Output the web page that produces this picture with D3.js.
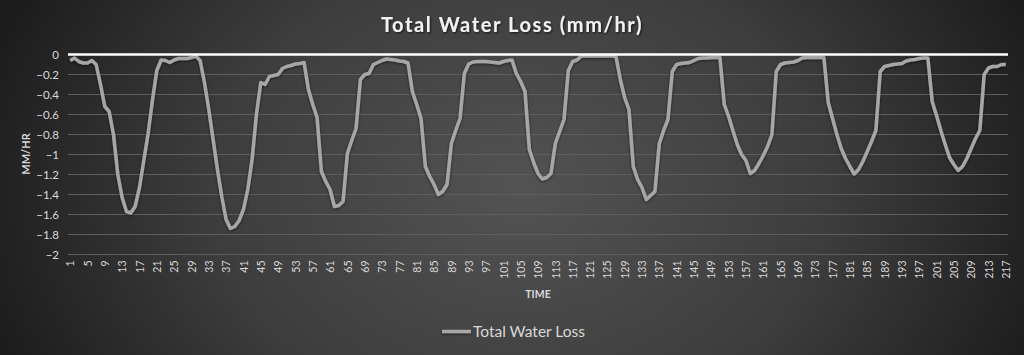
<!DOCTYPE html>
<html>
<head>
<meta charset="utf-8">
<script src="https://cdn.jsdelivr.net/npm/d3@7"></script>
<style>
  html, body { margin: 0; padding: 0; background: #2b2b2b; }
  svg { display: block; }
</style>
</head>
<body>
<svg id="chart" width="1024" height="355"></svg>
<script>
// ---- data ----
const chartTitle = "Total Water Loss (mm/hr)";
const seriesName = "Total Water Loss";
const yAxisTitle = "MM/HR";
const xAxisTitle = "TIME";
const timeSteps = d3.range(1, 218);
const waterLoss = [
  -0.06,-0.035,-0.07,-0.085,-0.085,-0.06,-0.10,-0.30,-0.52,-0.57,-0.80,-1.20,-1.43,-1.57,-1.585,-1.52,-1.33,-1.06,-0.79,-0.455,-0.16,-0.055,-0.06,-0.08,
  -0.055,-0.04,-0.04,-0.04,-0.03,-0.015,-0.06,-0.28,-0.55,-0.85,-1.15,-1.42,-1.65,-1.74,-1.72,-1.66,-1.55,-1.35,-1.05,-0.60,-0.28,-0.30,-0.22,-0.21,
  -0.20,-0.14,-0.12,-0.11,-0.095,-0.09,-0.08,-0.35,-0.50,-0.63,-1.17,-1.27,-1.35,-1.52,-1.51,-1.47,-0.99,-0.86,-0.74,-0.25,-0.20,-0.19,-0.10,-0.08,
  -0.06,-0.045,-0.05,-0.055,-0.065,-0.07,-0.085,-0.37,-0.50,-0.64,-1.12,-1.22,-1.30,-1.40,-1.37,-1.30,-0.89,-0.76,-0.64,-0.19,-0.095,-0.075,-0.07,-0.07,
  -0.07,-0.075,-0.08,-0.085,-0.07,-0.06,-0.055,-0.19,-0.27,-0.37,-0.95,-1.08,-1.19,-1.245,-1.23,-1.19,-0.89,-0.77,-0.65,-0.16,-0.07,-0.055,-0.015,-0.015,
  -0.015,-0.015,-0.015,-0.015,-0.015,-0.015,-0.02,-0.25,-0.43,-0.55,-1.12,-1.25,-1.33,-1.45,-1.41,-1.37,-0.89,-0.76,-0.65,-0.17,-0.10,-0.09,-0.085,-0.08,
  -0.06,-0.04,-0.035,-0.035,-0.03,-0.03,-0.03,-0.50,-0.62,-0.76,-0.90,-1.00,-1.06,-1.19,-1.16,-1.09,-1.01,-0.92,-0.80,-0.17,-0.10,-0.085,-0.08,-0.075,
  -0.06,-0.035,-0.03,-0.03,-0.03,-0.03,-0.03,-0.48,-0.64,-0.80,-0.94,-1.04,-1.12,-1.195,-1.15,-1.07,-0.97,-0.87,-0.76,-0.17,-0.12,-0.11,-0.10,-0.095,
  -0.09,-0.065,-0.055,-0.05,-0.04,-0.035,-0.035,-0.47,-0.61,-0.76,-0.90,-1.03,-1.10,-1.16,-1.12,-1.04,-0.94,-0.84,-0.76,-0.20,-0.135,-0.12,-0.12,-0.10,
  -0.10
];
const yTicks = [0, -0.2, -0.4, -0.6, -0.8, -1, -1.2, -1.4, -1.6, -1.8, -2];
const xTickLabels = [1,5,9,13,17,21,25,29,33,37,41,45,49,53,57,61,65,69,73,77,81,85,89,93,97,101,105,109,113,117,121,125,129,133,137,141,145,149,153,157,161,165,169,173,177,181,185,189,193,197,201,205,209,213,217];

// ---- layout ----
const W = 1024, H = 355;
const plot = { left: 68, right: 1008, top: 54.5, bottom: 254.5 };
const font = "Lato, 'Open Sans', 'Liberation Sans', sans-serif";
const textCol = "#d9d9d9";

const svg = d3.select("#chart");
const defs = svg.append("defs");
const bg = defs.append("radialGradient").attr("id", "bg")
  .attr("gradientUnits", "userSpaceOnUse")
  .attr("cx", 520).attr("cy", 190).attr("r", 560)
  .attr("gradientTransform", "translate(520,190) scale(1,0.75) translate(-520,-190)");
bg.append("stop").attr("offset", "0%").attr("stop-color", "#535353");
bg.append("stop").attr("offset", "55%").attr("stop-color", "#3d3d3d");
bg.append("stop").attr("offset", "100%").attr("stop-color", "#1c1c1c");

const sh = defs.append("filter").attr("id", "shadow")
  .attr("filterUnits", "userSpaceOnUse").attr("x", 0).attr("y", 0).attr("width", W).attr("height", H);
sh.append("feDropShadow").attr("dx", 0).attr("dy", 1).attr("stdDeviation", 1.5)
  .attr("flood-color", "#000").attr("flood-opacity", 0.55);

const tsh = defs.append("filter").attr("id", "tshadow");
tsh.append("feDropShadow").attr("dx", 1).attr("dy", 1).attr("stdDeviation", 1)
  .attr("flood-color", "#000").attr("flood-opacity", 0.7);

svg.append("rect").attr("width", W).attr("height", H).attr("fill", "url(#bg)");

const x = d3.scalePoint().domain(timeSteps).range([plot.left, plot.right]).padding(0.5);
const y = d3.scaleLinear().domain([0, -2]).range([plot.top, plot.bottom]);

// gridlines
svg.append("g")
  .selectAll("line").data(yTicks.filter(d => d !== 0)).join("line")
  .attr("x1", plot.left).attr("x2", plot.right)
  .attr("y1", d => y(d)).attr("y2", d => y(d))
  .attr("stroke", "#5e5e5e").attr("stroke-width", 1);

// y axis labels
const yAxis = d3.axisLeft(y).tickValues(yTicks).tickSize(0).tickPadding(0)
  .tickFormat(d => d3.format("")(+d.toFixed(1)));
const gy = svg.append("g").attr("transform", `translate(${plot.left - 9},0)`).call(yAxis);
gy.select(".domain").remove();
gy.selectAll("text").attr("fill", textCol).style("font-family", font).style("font-size", "11.5px").attr("dy", "0.36em");

// x axis labels (bottom, rotated)
const xAxis = d3.axisBottom(x).tickValues(xTickLabels).tickSize(0).tickPadding(0);
const gx = svg.append("g").attr("transform", `translate(0,${plot.bottom + 6})`).call(xAxis);
gx.select(".domain").remove();
gx.selectAll("text")
  .attr("fill", textCol).style("font-family", font).style("font-size", "10.5px")
  .attr("text-anchor", "end").attr("transform", "rotate(-90)")
  .attr("x", 0).attr("y", 0).attr("dx", 0).attr("dy", "0.35em");

// series line
const line = d3.line().x((d, i) => x(timeSteps[i])).y(d => y(d));
svg.append("path").datum(waterLoss)
  .attr("d", line).attr("fill", "none")
  .attr("stroke", "#a6a6a6").attr("stroke-width", 3.5)
  .attr("stroke-linejoin", "round").attr("filter", "url(#shadow)");

// zero axis line
svg.append("line")
  .attr("x1", plot.left).attr("x2", plot.right)
  .attr("y1", y(0)).attr("y2", y(0))
  .attr("stroke", "#ffffff").attr("stroke-width", 2.5);

// title
svg.append("text").attr("x", 512).attr("y", 32).attr("text-anchor", "middle")
  .attr("fill", "#f2f2f2").style("font-family", font).style("font-size", "20px").style("font-weight", "bold")
  .style("letter-spacing", "1.6px").attr("filter", "url(#tshadow)")
  .text(chartTitle);

// axis titles
svg.append("text").attr("transform", "translate(30,154) rotate(-90)").attr("text-anchor", "middle")
  .attr("fill", textCol).style("font-family", font).style("font-size", "11px").style("font-weight", "bold")
  .text(yAxisTitle);
svg.append("text").attr("x", 538).attr("y", 298).attr("text-anchor", "middle")
  .attr("fill", textCol).style("font-family", font).style("font-size", "10.5px").style("font-weight", "bold")
  .text(xAxisTitle);

// legend
const lg = svg.append("g");
lg.append("line").attr("x1", 442).attr("x2", 471).attr("y1", 331.5).attr("y2", 331.5)
  .attr("stroke", "#a6a6a6").attr("stroke-width", 3.5).attr("filter", "url(#shadow)");
lg.append("text").attr("x", 473).attr("y", 337)
  .attr("fill", textCol).style("font-family", font).style("font-size", "15.5px")
  .text(seriesName);
</script>
</body>
</html>
